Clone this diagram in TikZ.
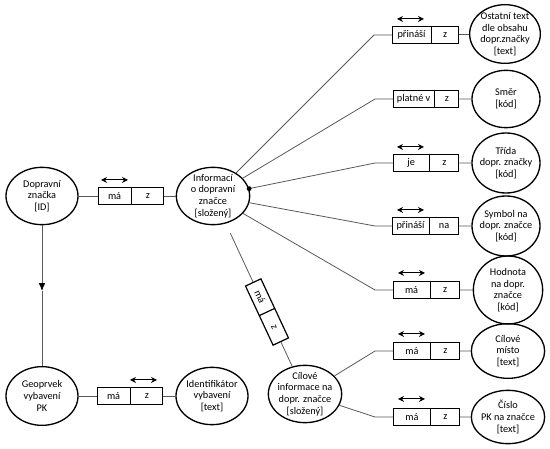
\documentclass[tikz,border=0pt]{standalone}
\usepackage{fontspec}
\setmainfont{Carlito}
\usetikzlibrary{calc,arrows.meta,shapes.geometric,shapes.multipart}
\tikzset{
  ent/.style={draw=black, shape=ellipse, line width=1pt, minimum width=54pt, minimum height=43pt, inner sep=0pt},
  lab/.style={align=center, inner sep=0pt, font=\fontsize{7.7}{8.7}\selectfont},
  relbox/.style={draw=black, line width=0.9pt, rectangle split, rectangle split horizontal, rectangle split parts=2, minimum height=12.75pt, inner xsep=0pt, inner ysep=0pt, font=\fontsize{7.7}{9}\selectfont, anchor=west},
  conn/.style={draw=black!65, line width=0.6pt},
  both/.style={draw=black, line width=0.7pt, {Stealth[length=4.5pt,width=4.5pt]}-{Stealth[length=4.5pt,width=4.5pt]}},
}
\begin{document}
\begin{tikzpicture}[x=0.75pt,y=-0.75pt]
  \useasboundingbox (0,0) rectangle (550,449);
  % entities, left part
  \node[ent, label={[lab]center:{Dopravní\\značka\\{[ID]}}}] (dz) at (42,196) {};
  \node[ent, minimum width=55pt, label={[lab]center:{Informací\\o dopravní\\značce\\{[složený]}}}] (info) at (213,196) {};
  \node[ent, minimum height=44pt, label={[lab]center:{Geoprvek\\vybavení\\PK}}] (geo) at (42,396) {};
  \node[ent, label={[lab]center:{Identifikátor\\vybavení\\{[text]}}}] (ident) at (212,396) {};
  \node[ent, minimum width=55pt, label={[lab]center:{Cílové\\informace na\\dopr. značce\\{[složený]}}}] (cil) at (305,394) {};
  % entities, right column
  \node[ent, minimum width=53pt, minimum height=44pt, label={[lab]center:{Ostatní text\\dle obsahu\\dopr.značky\\{[text]}}}] (e3) at (505,34) {};
  \node[ent, minimum width=51pt, label={[lab]center:{Směr\\{[kód]}}}] (e4) at (506,99) {};
  \node[ent, minimum width=51pt, minimum height=45pt, label={[lab]center:{Třída\\dopr. značky\\{[kód]}}}] (e5) at (506,163) {};
  \node[ent, minimum width=51pt, minimum height=45pt, label={[lab]center:{Symbol na\\dopr. značce\\{[kód]}}}] (e6) at (506,226) {};
  \node[ent, minimum width=52pt, minimum height=51pt, label={[lab]center:{Hodnota\\na dopr.\\značce\\{[kód]}}}] (e7) at (508,290) {};
  \node[ent, minimum width=55pt, minimum height=41pt, label={[lab]center:{Cílové\\místo\\{[text]}}}] (e8) at (508,351) {};
  \node[ent, minimum width=55pt, minimum height=40pt, label={[lab]center:{Číslo\\PK na značce\\{[text]}}}] (e9) at (508,417) {};

  % relationship boxes
  \node[relbox] (r1) at (98,196) {\makebox[24pt]{má}\nodepart{two}\makebox[24pt]{z}};
  \node[relbox] (r2) at (97,396) {\makebox[24pt]{má}\nodepart{two}\makebox[24pt]{z}};
  \node[relbox] (r3) at (392,35) {\makebox[28.5pt]{přináší}\nodepart{two}\makebox[20pt]{z}};
  \node[relbox] (r4) at (393,99) {\makebox[30pt]{platné v}\nodepart{two}\makebox[18pt]{z}};
  \node[relbox] (r5) at (393,163) {\makebox[26.5pt]{je}\nodepart{two}\makebox[21.5pt]{z}};
  \node[relbox] (r6) at (392,226) {\makebox[27pt]{přináší}\nodepart{two}\makebox[21.5pt]{na}};
  \node[relbox] (r7) at (393,290) {\makebox[27pt]{má}\nodepart{two}\makebox[21.5pt]{z}};
  \node[relbox] (r8) at (393,351) {\makebox[27.5pt]{má}\nodepart{two}\makebox[21pt]{z}};
  \node[relbox] (r9) at (393,417) {\makebox[27.5pt]{má}\nodepart{two}\makebox[21pt]{z}};
  \node[relbox, anchor=center, rotate=-65] (rel) at (267,312) {\makebox[24pt]{má}\nodepart{two}\makebox[24pt]{z}};

  % reading direction
  \draw[both] ($(r1.north west)+(3,-7)$) -- ++(27,0);
  \draw[both] ($(r2.north west)+(33,-7)$) -- ++(27,0);
  \draw[both] ($(r3.north west)+(5,-7)$) -- ++(27,0);
  \draw[both] ($(r5.north west)+(4,-7)$) -- ++(27,0);
  \draw[both] ($(r6.north west)+(5,-7)$) -- ++(27,0);
  \draw[both] ($(r7.north west)+(5,-8)$) -- ++(27,0);
  \draw[both] ($(r8.north west)+(5,-8)$) -- ++(27,0);
  \draw[both] ($(r9.north west)+(5,-9)$) -- ++(27,0);

  % bends in front of the boxes
  \coordinate (s1) at (374,35);
  \coordinate (s2) at (375,99);
  \coordinate (s3) at (375,163);
  \coordinate (s4) at (375,226);
  \coordinate (s5) at (375,290);
  \coordinate (s6) at (375,351);
  \coordinate (s7) at (375,417);
  \coordinate (mid) at (42,291);

  % connectors
  \draw[conn] (dz) -- (r1) -- (info);
  \draw[conn] (geo) -- (r2) -- (ident);
  \draw[conn, -{Latex[length=6pt,width=5pt,color=black]}] (dz) -- (mid);
  \draw[conn] (mid) -- (geo);
  \draw[conn] (info) -- (s1) -- (r3) -- (e3);
  \draw[conn] (info) -- (s2) -- (r4) -- (e4);
  \draw[conn] (info) -- coordinate[pos=0] (dot) (s3) -- (r5) -- (e5);
  \fill (dot) circle (1.8pt);
  \draw[conn] (info) -- (s4) -- (r6) -- (e6);
  \draw[conn] (info) -- (s5) -- (r7) -- (e7);
  \draw[conn, shorten <=8pt] (info) -- (rel);
  \draw[conn] (rel) -- (cil);
  \draw[conn] (cil) -- (s6) -- (r8) -- (e8);
  \draw[conn] (cil) -- (s7) -- (r9) -- (e9);
\end{tikzpicture}
\end{document}
